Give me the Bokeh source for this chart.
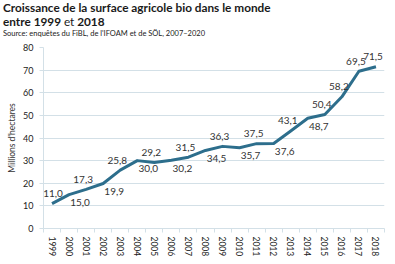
from bokeh.plotting import figure
from bokeh.layouts import column
from bokeh.models import Div, FixedTicker, ColumnDataSource
from bokeh.core.properties import value
from bokeh.embed import file_html
from bokeh.resources import INLINE

years = ["1999", "2000", "2001", "2002", "2003", "2004", "2005", "2006", "2007", "2008",
         "2009", "2010", "2011", "2012", "2013", "2014", "2015", "2016", "2017", "2018"]
surface = [11.0, 15.0, 17.3, 19.9, 25.8, 30.0, 29.2, 30.2, 31.5, 34.5,
           36.3, 35.7, 37.5, 37.6, 43.1, 48.7, 50.4, 58.2, 69.5, 71.5]
y_ticks = [0, 10, 20, 30, 40, 50, 60, 70, 80]

FONT = "Lato"
LINE = "#2d6e8c"
GRID = "#d3e0e7"

xs = list(range(len(years)))
labels = [f"{v:.1f}".replace(".", ",") for v in surface]
above = [(i % 2 == 0) or i >= 16 for i in xs]
xoff = [(-3 if a else 11) for a in above]
xoff[0] = 1
yoff = [-10 if a else 8 for a in above]

src = ColumnDataSource(dict(x=xs, y=surface, lab=labels, xo=xoff, yo=yoff))

header = Div(
    text=(
        f'<div style="position:relative;width:395px;height:42px;font-family:{FONT};color:#1a1a1a">'
        '<div style="position:absolute;left:3px;top:1px;font-weight:bold;font-size:11.8px;line-height:14px;white-space:nowrap">'
        'Croissance de la surface agricole bio dans le monde<br>'
        'entre 1999 <span style="font-weight:normal">et</span> 2018</div>'
        '<div style="position:absolute;left:3px;top:29px;font-size:7.5px;white-space:nowrap;color:#222">'
        'Source: enquêtes du FiBL, de l\'IFOAM et de SÖL, 2007–2020</div></div>'
    ),
    width=395, height=42, margin=(0, 0, 0, 0),
)

p = figure(width=395, height=222, output_backend="svg", toolbar_location=None,
           x_range=(-0.5, len(years) - 0.5), y_range=(0, 80),
           min_border_left=43, min_border_right=11, min_border_top=5, min_border_bottom=36,
           margin=(0, 0, 0, 0))
p.outline_line_color = None
p.background_fill_color = "white"

p.line("x", "y", source=src, line_color=LINE, line_width=3, line_join="round")
p.text("x", "y", text="lab", source=src, x_offset="xo", y_offset="yo",
       text_font=value(FONT), text_font_size="10px", text_color="#333333",
       text_align="center", text_baseline="middle")

# x axis
p.xaxis.ticker = FixedTicker(ticks=xs, minor_ticks=[i - 0.5 for i in range(len(years) + 1)])
p.xaxis.major_label_overrides = {i: y for i, y in enumerate(years)}
p.xaxis.major_label_orientation = "vertical"
p.xaxis.major_tick_out = 0
p.xaxis.major_tick_in = 0
p.xaxis.minor_tick_out = 4
p.xaxis.minor_tick_in = 0
p.xaxis.minor_tick_line_color = GRID
p.xaxis.axis_line_color = GRID
p.xaxis.major_label_text_font = FONT
p.xaxis.major_label_text_font_size = "8.5px"
p.xaxis.major_label_text_color = "#222222"
p.xaxis.major_label_standoff = 4
p.xgrid.grid_line_color = None

# y axis
p.yaxis.ticker = FixedTicker(ticks=y_ticks)
p.yaxis.axis_label = "Millions d'hectares"
p.yaxis.axis_label_text_font = FONT
p.yaxis.axis_label_text_font_style = "normal"
p.yaxis.axis_label_text_font_size = "8.5px"
p.yaxis.axis_label_text_color = "#333333"
p.yaxis.axis_label_standoff = 3
p.yaxis.major_label_text_font = FONT
p.yaxis.major_label_text_font_size = "9px"
p.yaxis.major_label_text_color = "#222222"
p.yaxis.axis_line_color = GRID
p.yaxis.major_tick_line_color = GRID
p.yaxis.major_tick_out = 4
p.yaxis.major_tick_in = 0
p.yaxis.minor_tick_line_color = None
p.yaxis.major_label_standoff = 6
p.ygrid.grid_line_color = GRID
p.ygrid.grid_line_width = 1

layout = column(header, p, spacing=0, margin=(0, 0, 0, 0))
open("out.html", "w").write(file_html(layout, INLINE))
